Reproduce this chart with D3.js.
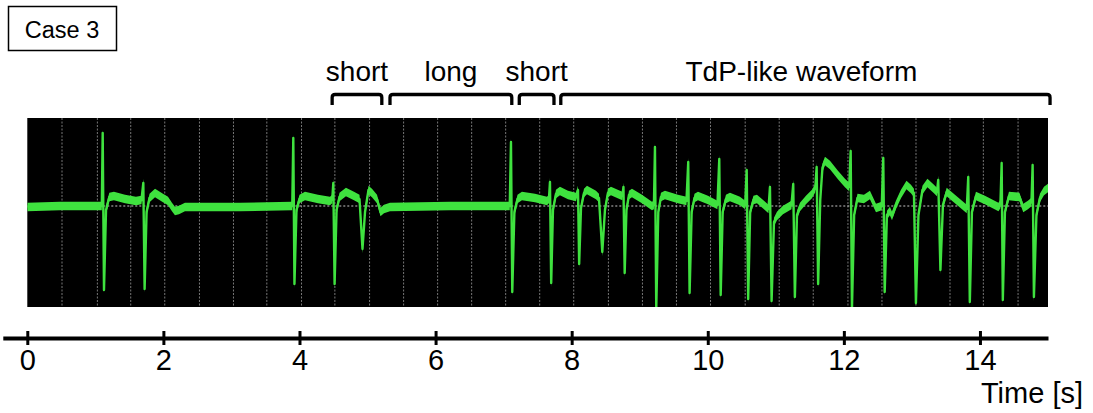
<!DOCTYPE html>
<html>
<head>
<meta charset="utf-8">
<script src="https://cdn.jsdelivr.net/npm/d3@7/dist/d3.min.js"></script>
<style>
  html, body { margin: 0; padding: 0; background: #fff; }
  svg { display: block; }
  text { font-family: "Liberation Sans", Arial, Helvetica, sans-serif; fill: #000; }
</style>
</head>
<body>
<svg id="chart" width="1093" height="413"></svg>
<script>
// ---- data (time in s, voltage in arbitrary units) ----
const traceTime = [
  0.000, 0.481, 1.095, 1.108, 1.127, 1.157, 1.205, 1.274, 1.436, 1.597, 1.678,
  1.705, 1.724, 1.753, 1.796, 1.877, 1.994, 2.068, 2.126, 2.170, 2.229, 2.317,
  3.126, 3.894, 3.909, 3.926, 3.956, 4.000, 4.081, 4.272, 4.448, 4.482,
  4.497, 4.516, 4.545, 4.588, 4.683, 4.801, 4.882, 4.926, 4.963, 5.014, 5.065,
  5.139, 5.190, 5.242, 5.330, 6.212, 7.090,
  7.108, 7.127, 7.158, 7.204, 7.269, 7.461, 7.637, 7.666,
  7.681, 7.699, 7.725, 7.769, 7.828, 7.946, 8.063,
  8.093, 8.110, 8.137, 8.181, 8.225, 8.357, 8.401,
  8.450, 8.489, 8.533, 8.577, 8.710, 8.746,
  8.761, 8.779, 8.805, 8.842, 8.886, 9.033, 9.180, 9.209,
  9.224, 9.243, 9.273, 9.312, 9.371, 9.561, 9.687,
  9.713, 9.733, 9.763, 9.805, 9.856, 10.003, 10.142,
  10.169, 10.190, 10.219, 10.267, 10.326, 10.473, 10.550,
  10.572, 10.594, 10.623, 10.671, 10.723, 10.826, 10.892,
  10.914, 10.938, 10.973, 11.017, 11.105, 11.230,
  11.256, 11.280, 11.311, 11.355, 11.443, 11.531, 11.580,
  11.600, 11.622, 11.653, 11.685, 11.722, 11.796, 11.913, 12.016, 12.079,
  12.100, 12.119, 12.151, 12.200, 12.295, 12.383, 12.472, 12.557,
  12.579, 12.600, 12.633, 12.677, 12.707, 12.765, 12.839, 12.920, 12.986, 13.030,
  13.059, 13.096, 13.155, 13.228, 13.324, 13.368,
  13.387, 13.419, 13.456, 13.511, 13.632, 13.806,
  13.828, 13.851, 13.882, 13.941, 14.073, 14.272, 14.301,
  14.319, 14.336, 14.367, 14.426, 14.580, 14.636, 14.705, 14.757,
  14.774, 14.793, 14.830, 14.881, 14.941, 15.000
];
const traceValue = [
  -0.01, 0.00, 0.00, 0.73, -0.84, -0.04, 0.09, 0.10, 0.07, 0.05, 0.06,
  0.23, -0.83, -0.06, 0.08, 0.13, 0.08, 0.05, -0.01, -0.05, -0.04, -0.01,
  -0.01, 0.00, 0.68, -0.78, -0.04, 0.07, 0.10, 0.07, 0.05, 0.07,
  0.23, -0.78, -0.04, 0.09, 0.14, 0.10, 0.07, -0.43, -0.06, 0.16, 0.13,
  0.07, -0.06, -0.03, -0.01, 0.00, 0.00,
  0.64, -0.86, -0.06, 0.07, 0.10, 0.08, 0.05, 0.07,
  0.24, -0.77, -0.04, 0.12, 0.15, 0.11, 0.09,
  0.16, -0.58, -0.02, 0.13, 0.16, 0.11, 0.08,
  -0.46, -0.04, 0.13, 0.15, 0.11, 0.10,
  0.19, -0.67, -0.04, 0.11, 0.13, 0.07, 0.00, 0.01,
  0.59, -1.03, -0.06, 0.09, 0.11, 0.07, 0.05,
  0.44, -0.87, -0.06, 0.08, 0.10, 0.06, 0.01,
  0.47, -0.89, -0.06, 0.07, 0.09, 0.05, 0.01,
  0.36, -0.93, -0.06, 0.06, 0.07, 0.01, -0.03,
  0.19, -0.95, -0.16, -0.10, -0.04, 0.01,
  0.22, -0.91, -0.09, -0.01, 0.06, 0.12, 0.18,
  0.39, -0.78, 0.06, 0.38, 0.45, 0.41, 0.31, 0.23, 0.19,
  0.55, -1.03, -0.09, 0.08, 0.07, 0.11, -0.02, 0.00,
  0.48, -0.86, -0.09, -0.05, -0.10, 0.01, 0.12, 0.21, 0.17, 0.13,
  -0.97, -0.09, 0.16, 0.23, 0.17, 0.14,
  0.26, -0.64, 0.01, 0.14, 0.07, -0.03,
  0.29, -0.96, -0.06, 0.10, 0.06, -0.01, 0.02,
  0.43, -0.94, -0.06, 0.10, 0.09, -0.02, 0.01, 0.04,
  0.41, -0.91, -0.09, 0.08, 0.15, 0.18
];
const gridTimes = [0.51, 1.03, 1.52, 2.02, 2.53, 3.03, 3.52, 4.03, 4.52, 5.03, 5.53,
  6.03, 6.53, 7.03, 7.53, 8.03, 8.54, 9.04, 9.54, 10.04, 10.55, 11.05, 11.55,
  12.06, 12.56, 13.06, 13.56, 14.05, 14.56];
const tickValues = [0, 2, 4, 6, 8, 10, 12, 14];
const bracketLabels = ["short", "long", "short", "TdP-like waveform"];
const bracketStart = [4.48, 5.33, 7.23, 7.84];
const bracketEnd = [5.21, 7.12, 7.74, 15.03];
const caseLabel = "Case 3";
const axisTitle = "Time [s]";

// ---- drawing ----
const svg = d3.select("#chart");
const x = d3.scaleLinear().domain([-0.36, 15]).range([2.8, 1048]);
const y = d3.scaleLinear().domain([-1, 1]).range([306, 106]);
const plotTop = 118, plotBottom = 307;
const x0 = x(0), x1 = x(15);

// Case label box
svg.append("rect").attr("x", 8.5).attr("y", 6.5).attr("width", 108).attr("height", 44)
  .attr("fill", "#fff").attr("stroke", "#000").attr("stroke-width", 1.5);
svg.append("text").attr("x", 62).attr("y", 37.5).attr("text-anchor", "middle")
  .style("font-size", "23.5px").text(caseLabel);

// oscilloscope background
svg.append("rect").attr("x", x0).attr("y", plotTop).attr("width", x1 - x0)
  .attr("height", plotBottom - plotTop).attr("fill", "#000");

svg.append("defs").append("clipPath").attr("id", "plotclip")
  .append("rect").attr("x", x0).attr("y", plotTop).attr("width", x1 - x0)
  .attr("height", plotBottom - plotTop);

const plot = svg.append("g").attr("clip-path", "url(#plotclip)");

plot.selectAll("line.grid").data(gridTimes).join("line").attr("class", "grid")
  .attr("x1", d => x(d)).attr("x2", d => x(d))
  .attr("y1", plotTop).attr("y2", plotBottom)
  .attr("stroke", "#777").attr("stroke-width", 1)
  .attr("stroke-dasharray", "2,1.5");

plot.append("line").attr("x1", x0).attr("x2", x1).attr("y1", y(0)).attr("y2", y(0))
  .attr("stroke", "#c8c8c8").attr("stroke-width", 1).attr("stroke-dasharray", "2,2");

const trace = traceTime.map((t, i) => ({ t, v: traceValue[i] }));
const green = "#3fe23f";
const band = d3.area().x(d => x(d.t)).y0(d => y(d.v) - 4.3).y1(d => y(d.v) + 4.3);
const line = d3.line().x(d => x(d.t)).y(d => y(d.v));

plot.append("path").datum(trace).attr("d", band).attr("fill", green);
plot.append("path").datum(trace).attr("d", line).attr("fill", "none")
  .attr("stroke", green).attr("stroke-width", 2.4).attr("stroke-linejoin", "round");

// brackets
const bTop = 94.5, bBot = 105, r = 3;
bracketLabels.forEach((lab, i) => {
  const a = x(bracketStart[i]), b = x(bracketEnd[i]);
  svg.append("path")
    .attr("d", `M${a},${bBot} L${a},${bTop + r} Q${a},${bTop} ${a + r},${bTop} L${b - r},${bTop} Q${b},${bTop} ${b},${bTop + r} L${b},${bBot}`)
    .attr("fill", "none").attr("stroke", "#000").attr("stroke-width", 3.3);
  svg.append("text").attr("x", (a + b) / 2 - (i === 3 ? 4 : 0)).attr("y", 81)
    .attr("text-anchor", "middle").style("font-size", "28px").text(lab);
});

// time axis
const axisY = 338;
const axis = d3.axisBottom(x).tickValues(tickValues).tickSize(7).tickSizeOuter(0)
  .tickPadding(4).tickFormat(d3.format("d"));
const ag = svg.append("g").attr("transform", `translate(0,${axisY})`).call(axis);
ag.select(".domain").attr("stroke", "#000").attr("stroke-width", 4);
ag.selectAll(".tick line").attr("y1", -7).attr("y2", 7)
  .attr("stroke", "#000").attr("stroke-width", 3);
ag.selectAll(".tick text").style("font-size", "29px")
  .style("font-family", "'Liberation Sans', Arial, sans-serif").attr("fill", "#000");

svg.append("text").attr("x", 1083).attr("y", 403).attr("text-anchor", "end")
  .style("font-size", "29px").text(axisTitle);
</script>
</body>
</html>
